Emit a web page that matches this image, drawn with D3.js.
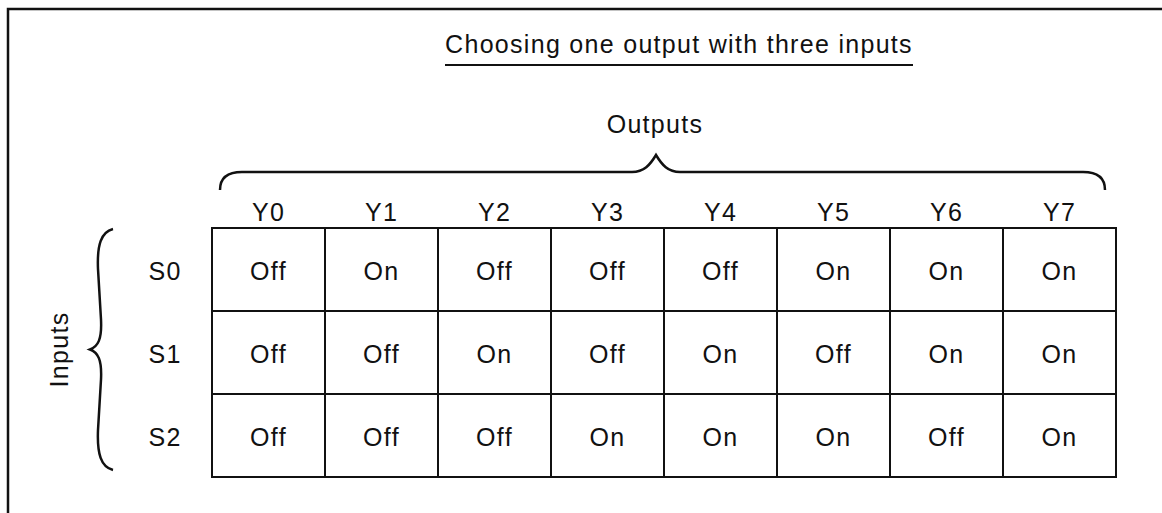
<!DOCTYPE html>
<html>
<head>
<meta charset="utf-8">
<script src="https://cdn.jsdelivr.net/npm/d3@7"></script>
<style>
  html, body { margin: 0; padding: 0; background: #fff; }
  svg { display: block; }
  text { font-family: "Liberation Sans", Arial, Helvetica, sans-serif; fill: #111; }
</style>
</head>
<body>
<svg id="chart" width="1162" height="513"></svg>
<script>
const title = "Choosing one output with three inputs";
const outputsLabel = "Outputs";
const inputsLabel = "Inputs";
const outputs = ["Y0", "Y1", "Y2", "Y3", "Y4", "Y5", "Y6", "Y7"];
const inputs = ["S0", "S1", "S2"];
const s0 = ["Off", "On", "Off", "Off", "Off", "On", "On", "On"];
const s1 = ["Off", "Off", "On", "Off", "On", "Off", "On", "On"];
const s2 = ["Off", "Off", "Off", "On", "On", "On", "Off", "On"];
const states = [s0, s1, s2];

const svg = d3.select("#chart");
const W = 1162, H = 513;
const FS = 25, LS = 1.3;

const x = d3.scaleBand().domain(outputs).range([212, 1116]).padding(0);
const y = d3.scaleBand().domain(inputs).range([228, 477]).padding(0);

// frame (left + top)
svg.append("path")
  .attr("d", `M8,${H} L8,9 L${W},9`)
  .attr("fill", "none").attr("stroke", "#111").attr("stroke-width", 2.5);

// title + underline
svg.append("text")
  .attr("x", 679).attr("y", 53)
  .attr("text-anchor", "middle")
  .attr("font-size", FS).attr("letter-spacing", LS)
  .text(title);
svg.append("line")
  .attr("x1", 445).attr("x2", 913).attr("y1", 65).attr("y2", 65)
  .attr("stroke", "#111").attr("stroke-width", 2);

// Outputs label
svg.append("text")
  .attr("x", 655).attr("y", 133)
  .attr("text-anchor", "middle")
  .attr("font-size", FS).attr("letter-spacing", LS)
  .text(outputsLabel);

// top brace
const bx0 = x(outputs[0]) + 8, bx1 = x(outputs[outputs.length - 1]) + x.bandwidth() - 11;
const tipX = 656;
svg.append("path")
  .attr("d", `M${bx0},190 C${bx0},179 ${bx0+6},172 ${bx0+22},172 L${tipX-24},172 C${tipX-12},172 ${tipX-6},165 ${tipX},155 C${tipX+6},165 ${tipX+12},172 ${tipX+24},172 L${bx1-22},172 C${bx1-6},172 ${bx1},179 ${bx1},190`)
  .attr("fill", "none").attr("stroke", "#111").attr("stroke-width", 2.5);

// column headers
svg.selectAll("text.col").data(outputs).join("text")
  .attr("class", "col")
  .attr("x", d => x(d) + x.bandwidth() / 2)
  .attr("y", 221)
  .attr("text-anchor", "middle")
  .attr("font-size", FS).attr("letter-spacing", LS)
  .text(d => d);

// row labels
svg.selectAll("text.row").data(inputs).join("text")
  .attr("class", "row")
  .attr("x", 165)
  .attr("y", d => y(d) + y.bandwidth() / 2 + 10)
  .attr("text-anchor", "middle")
  .attr("font-size", FS).attr("letter-spacing", LS)
  .text(d => d);

// left brace
const ly0 = y(inputs[0]) + 1, ly1 = y(inputs[inputs.length - 1]) + y.bandwidth() - 7;
const lmid = (ly0 + ly1) / 2;
svg.append("path")
  .attr("d", `M113,${ly0} C101,${ly0+3} 97,${ly0+16} 98,${ly0+40} L101,${lmid-30} C102,${lmid-10} 98,${lmid-3} 90,${lmid} C98,${lmid+3} 102,${lmid+10} 101,${lmid+30} L98,${ly1-40} C97,${ly1-16} 101,${ly1-3} 113,${ly1}`)
  .attr("fill", "none").attr("stroke", "#111").attr("stroke-width", 2.5);

// Inputs label (rotated)
svg.append("text")
  .attr("transform", `translate(68,${lmid}) rotate(-90)`)
  .attr("text-anchor", "middle")
  .attr("font-size", FS).attr("letter-spacing", LS)
  .text(inputsLabel);

// cells
const cells = [];
states.forEach((row, i) => row.forEach((v, j) => cells.push({ r: inputs[i], c: outputs[j], v })));

svg.selectAll("rect.cell").data(cells).join("rect")
  .attr("class", "cell")
  .attr("x", d => x(d.c)).attr("y", d => y(d.r))
  .attr("width", x.bandwidth()).attr("height", y.bandwidth())
  .attr("fill", "none").attr("stroke", "#111").attr("stroke-width", 2);

svg.selectAll("text.cellv").data(cells).join("text")
  .attr("class", "cellv")
  .attr("x", d => x(d.c) + x.bandwidth() / 2)
  .attr("y", d => y(d.r) + y.bandwidth() / 2 + 10)
  .attr("text-anchor", "middle")
  .attr("font-size", FS).attr("letter-spacing", LS)
  .text(d => d.v);
</script>
</body>
</html>
